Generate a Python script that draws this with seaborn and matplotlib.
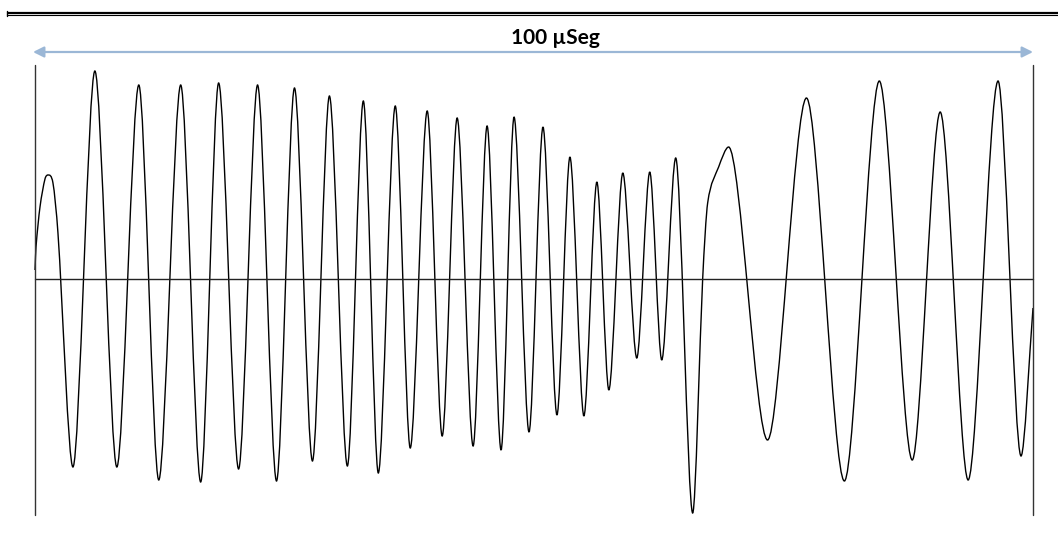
import numpy as np
import pandas as pd
import matplotlib
matplotlib.use('Agg')
import matplotlib.pyplot as plt
from matplotlib.path import Path
from matplotlib.patches import PathPatch
import seaborn as sns

# waveform: time in microseconds, amplitude (arbitrary units)
time_us = [0.0, 0.1, 0.5, 1.0, 1.3, 1.8, 2.3,
           3.8, 6.0, 8.2, 10.4, 12.4, 14.6, 16.6, 18.4, 20.4, 22.3,
           24.2, 26.0, 27.8, 29.5, 31.3, 32.9, 34.4, 36.1, 37.6, 39.3,
           40.8, 42.3, 43.9, 45.3, 46.7, 48.0, 49.5, 50.9, 52.3, 53.6,
           55.0, 56.3, 57.5, 58.9, 60.3, 61.6, 62.8, 64.2, 65.9,
           66.9, 67.4, 68.5, 69.5,
           73.4, 77.3, 81.1, 84.6, 87.9, 90.7, 93.5, 96.5, 98.8, 100.0]
amplitude = [0.045, 0.16, 0.36, 0.50, 0.52, 0.48, 0.23,
             -0.94, 1.04, -0.94, 0.97, -1.005, 0.97, -1.015, 0.98, -0.95, 0.97,
             -1.01, 0.955, -0.91, 0.915, -0.935, 0.89, -0.97, 0.865, -0.845, 0.84,
             -0.785, 0.805, -0.835, 0.765, -0.855, 0.81, -0.765, 0.76, -0.68, 0.61,
             -0.685, 0.485, -0.555, 0.53, -0.395, 0.535, -0.405, 0.605, -1.17,
             0.0, 0.38, 0.56, 0.66,
             -0.805, 0.905, -1.01, 0.99, -0.905, 0.835, -1.005, 0.99, -0.885, -0.145]

span_label = '100 µSeg'
span_us = 100.0


def smooth_path(xy, k=0.3):
    # smoothed line through the points (like a "smoothed line" chart option),
    # flat tangent at the turning points
    x, y = xy[:, 0], xy[:, 1]
    n = len(x)
    m = np.zeros(n)
    for i in range(n):
        if i == 0:
            m[i] = (y[1] - y[0]) / (x[1] - x[0])
        elif i == n - 1:
            m[i] = (y[-1] - y[-2]) / (x[-1] - x[-2])
        elif (y[i] - y[i - 1]) * (y[i + 1] - y[i]) <= 0:
            m[i] = 0.0
        else:
            m[i] = (y[i + 1] - y[i - 1]) / (x[i + 1] - x[i - 1])
    verts = [(x[0], y[0])]
    codes = [Path.MOVETO]
    for i in range(n - 1):
        dx = x[i + 1] - x[i]
        verts += [(x[i] + k * dx, y[i] + k * dx * m[i]),
                  (x[i + 1] - k * dx, y[i + 1] - k * dx * m[i + 1]),
                  (x[i + 1], y[i + 1])]
        codes += [Path.CURVE4] * 3
    return Path(verts, codes)


df = pd.DataFrame({'t': time_us, 'a': amplitude})

sns.set_theme(style='white')
plt.rcParams['font.family'] = ['Lato', 'DejaVu Sans']

fig = plt.figure(figsize=(10.58, 5.44), dpi=100)
ax = fig.add_axes([0, 0, 1, 1])
ax.set_xlim(-3.507, 102.505)
ax.set_ylim(-1.325, 1.395)
ax.axis('off')

sns.lineplot(data=df, x='t', y='a', sort=False, estimator=None,
             color='black', linewidth=1.0, ax=ax)
line = ax.lines[-1]
xy = line.get_xydata()
line.remove()
ax.add_patch(PathPatch(smooth_path(xy), facecolor='none', edgecolor='black', lw=1.0))

# zero line and window limits
ax.plot([0, span_us], [0, 0], color='#222222', lw=1.0)
for xv in (0, span_us):
    ax.plot([xv, xv], [-1.18, 1.07], color='#333333', lw=1.0)

# span arrow and label
ax.annotate('', xy=(-0.2, 1.135), xytext=(span_us, 1.135),
            arrowprops=dict(arrowstyle='<|-|>', color='#9bb7d6', lw=1.6,
                            mutation_scale=16, shrinkA=0, shrinkB=0))
ax.text(52.1, 1.205, span_label, ha='center', va='center',
        fontsize=15, fontweight='bold', color='black')

# double rule at the top
ax.plot([-2.8, 102.6], [1.33, 1.33], color='black', lw=1.6, solid_capstyle='butt')
ax.plot([-2.8, 102.6], [1.319, 1.319], color='black', lw=0.8, solid_capstyle='butt')
ax.plot([-2.8, -2.8], [1.34, 1.315], color='black', lw=1.0)

fig.savefig('out.png', dpi=100)
